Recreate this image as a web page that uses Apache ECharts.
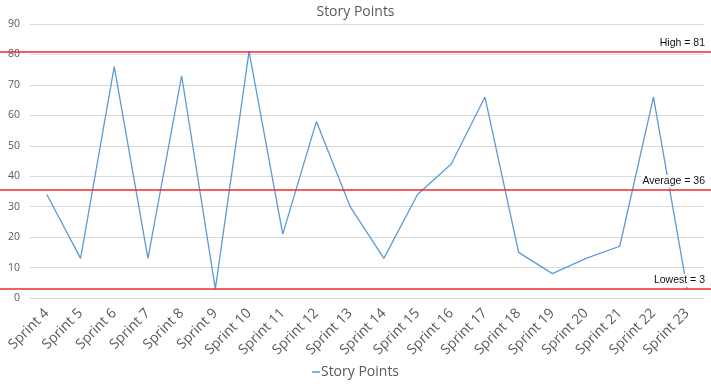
<!DOCTYPE html>
<html>
<head>
<meta charset="utf-8">
<script src="https://cdn.jsdelivr.net/npm/echarts@6/dist/echarts.min.js"></script>
<style>html,body{margin:0;padding:0;background:#fff}#c{width:711px;height:386px}</style>
</head>
<body>
<div id="c"></div>
<script>
const categories = ['Sprint 4','Sprint 5','Sprint 6','Sprint 7','Sprint 8','Sprint 9','Sprint 10','Sprint 11','Sprint 12','Sprint 13','Sprint 14','Sprint 15','Sprint 16','Sprint 17','Sprint 18','Sprint 19','Sprint 20','Sprint 21','Sprint 22','Sprint 23'];
const storyPoints = [34,13,76,13,73,3,81,21,58,30,13,34,44,66,15,8,13,17,66,3];
const refValues = [81, 35.5, 3];
const refLabels = ['High = 81', 'Average = 36', 'Lowest = 3'];
const yTicks = {min: 0, max: 90, interval: 10};

const font = 'Open Sans, Lato, sans-serif';
const chart = echarts.init(document.getElementById('c'));
chart.setOption({
  animation: false,
  title: {text: 'Story Points', left: 'center', top: 0,
    textStyle: {fontFamily: font, fontSize: 14, fontWeight: 'normal', color: '#595959'}},
  legend: {data: ['Story Points'], bottom: 2, left: 'center', icon: 'rect',
    itemWidth: 8, itemHeight: 1.5, itemGap: 0,
    textStyle: {fontFamily: font, fontSize: 14, color: '#595959', padding: [0,0,0,-4]}},
  grid: [
    {left: 30, right: 7, top: 24, bottom: 88, containLabel: false},
    {left: 0, right: 0, top: 24, bottom: 88, containLabel: false}
  ],
  xAxis: [
    {type: 'category', data: categories, gridIndex: 0, boundaryGap: true,
      axisLine: {show: false}, axisTick: {show: false},
      axisLabel: {rotate: 45, interval: 0, fontFamily: font, fontSize: 14, color: '#595959', margin: 13}},
    {type: 'value', gridIndex: 1, min: 0, max: 1, show: false}
  ],
  yAxis: [
    {type: 'value', gridIndex: 0, min: yTicks.min, max: yTicks.max, interval: yTicks.interval,
      axisLine: {show: false}, axisTick: {show: false},
      splitLine: {lineStyle: {color: '#d9d9d9', width: 1}},
      axisLabel: {fontFamily: font, fontSize: 10.5, color: '#595959', margin: 10}},
    {type: 'value', gridIndex: 1, min: yTicks.min, max: yTicks.max, show: false}
  ],
  series: [
    {name: 'Story Points', type: 'line', xAxisIndex: 0, yAxisIndex: 0, data: storyPoints,
      showSymbol: false, symbol: 'none', lineStyle: {color: '#5B9BD5', width: 1.3},
      itemStyle: {color: '#5B9BD5'}, z: 2},
    {name: 'ref', type: 'line', xAxisIndex: 1, yAxisIndex: 1, data: [], z: 5,
      markLine: {silent: true, symbol: 'none',
        lineStyle: {color: '#f02a2a', width: 1.5, type: 'solid'},
        label: {position: 'insideEndTop', fontFamily: 'Liberation Sans, sans-serif', fontSize: 10.5,
          color: '#111', backgroundColor: '#fff', padding: [1,1,1,1], distance: [5, 2]},
        data: refValues.map((v, i) => ({yAxis: v, label: {formatter: refLabels[i]}}))}}
  ]
});
</script>
</body>
</html>
